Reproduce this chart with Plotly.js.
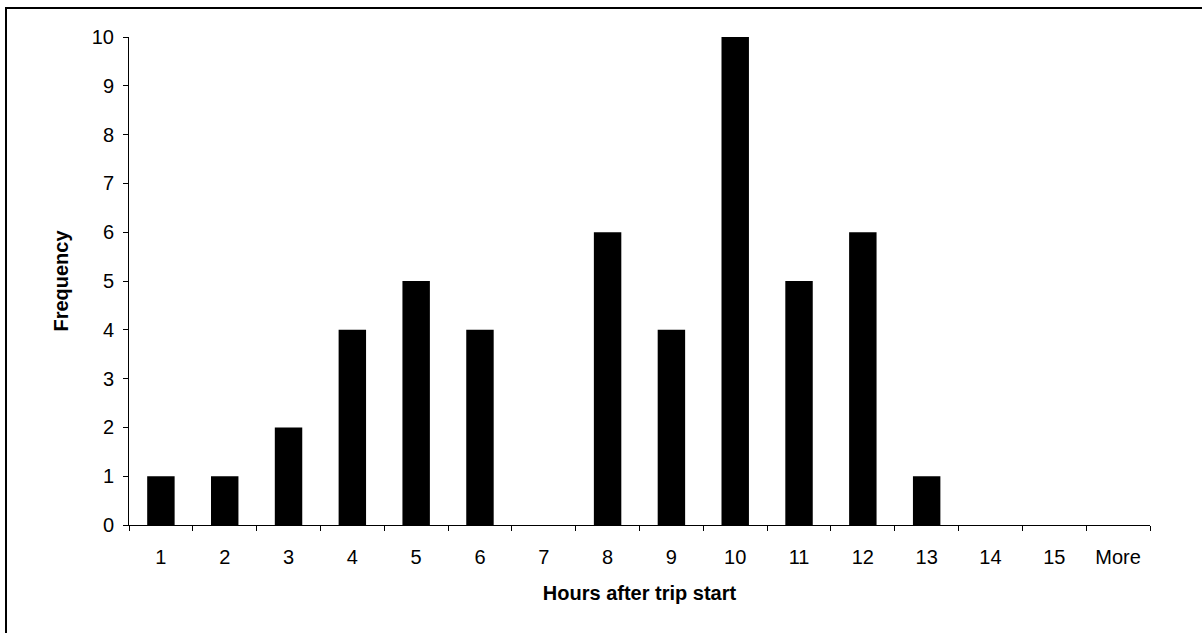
<!DOCTYPE html>
<html>
<head>
<meta charset="utf-8">
<script src="https://cdn.plot.ly/plotly-3.0.1.min.js"></script>
<style>
  html, body { margin: 0; padding: 0; background: #fff; overflow: hidden; }
  #chart { position: absolute; left: 0; top: 0; width: 1202px; height: 633px; }
  #frame { position: absolute; left: 5px; top: 7px; width: 1300px; height: 800px;
           border-left: 2px solid #000; border-top: 2px solid #000; pointer-events: none; }
</style>
</head>
<body>
<div id="chart"></div>
<div id="frame"></div>
<script>
const categories = ['1','2','3','4','5','6','7','8','9','10','11','12','13','14','15','More'];
const frequency  = [1, 1, 2, 4, 5, 4, 0, 6, 4, 10, 5, 6, 1, 0, 0, 0];
const xTitle = 'Hours after trip start';
const yTitle = 'Frequency';
const yTicks = [0,1,2,3,4,5,6,7,8,9,10];

const FONT = 'Liberation Sans, Arial, sans-serif';
const nCat = categories.length;

const trace = {
  type: 'bar',
  x: categories,
  y: frequency,
  marker: { color: '#000000', line: { color: '#000000', width: 0 } },
  hoverinfo: 'x+y'
};

const layout = {
  width: 1202, height: 633,
  margin: { l: 129, r: 52, t: 37, b: 108, pad: 0 },
  paper_bgcolor: 'rgba(0,0,0,0)',
  plot_bgcolor: '#ffffff',
  showlegend: false,
  bargap: 0.57,
  font: { family: FONT, size: 20, color: '#000' },
  xaxis: {
    type: 'category',
    range: [-0.5, nCat - 0.5],
    tickson: 'boundaries',
    ticks: 'outside', ticklen: 5, tickwidth: 1, tickcolor: '#000',
    showline: true, linecolor: '#000', linewidth: 1,
    showgrid: false, zeroline: false,
    tickfont: { family: FONT, size: 20, color: '#000' },
    ticklabelstandoff: 14,
    title: { text: '<b>' + xTitle + '</b>', font: { family: FONT, size: 20, color: '#000' }, standoff: 18 },
    fixedrange: true
  },
  yaxis: {
    range: [0, 10],
    tickmode: 'array', tickvals: yTicks, ticktext: yTicks.map(String),
    ticks: 'outside', ticklen: 5, tickwidth: 1, tickcolor: '#000',
    showline: true, linecolor: '#000', linewidth: 1,
    showgrid: false, zeroline: false,
    tickfont: { family: FONT, size: 20, color: '#000' },
    ticklabelstandoff: 5,
    title: { text: '<b>' + yTitle + '</b>', font: { family: FONT, size: 20, color: '#000' }, standoff: 17 },
    fixedrange: true
  },
  xaxis2: {
    overlaying: 'x', anchor: 'y', side: 'bottom',
    type: 'linear', range: [-0.5, nCat - 0.5],
    tickmode: 'linear', tick0: -0.5, dtick: 1,
    ticks: 'inside', ticklen: 4, tickwidth: 1, tickcolor: '#000',
    showticklabels: false, showline: false, showgrid: false, zeroline: false, fixedrange: true
  },
  yaxis2: {
    overlaying: 'y', anchor: 'x', side: 'left',
    range: [0, 10], tickmode: 'linear', tick0: 0, dtick: 1,
    ticks: 'inside', ticklen: 4, tickwidth: 1, tickcolor: '#000',
    showticklabels: false, showline: false, showgrid: false, zeroline: false, fixedrange: true
  },
  xaxis3: {
    overlaying: 'x', anchor: 'y', side: 'top',
    type: 'linear', range: [-0.5, nCat - 0.5],
    ticks: '', showticklabels: false, showline: true, linecolor: '#999999', linewidth: 1,
    showgrid: false, zeroline: false, fixedrange: true
  },
  yaxis3: {
    overlaying: 'y', anchor: 'x', side: 'right',
    range: [0, 10],
    ticks: '', showticklabels: false, showline: true, linecolor: '#999999', linewidth: 1,
    showgrid: false, zeroline: false, fixedrange: true
  }
};

Plotly.newPlot('chart', [trace], layout, { displayModeBar: false, staticPlot: true });
</script>
</body>
</html>
